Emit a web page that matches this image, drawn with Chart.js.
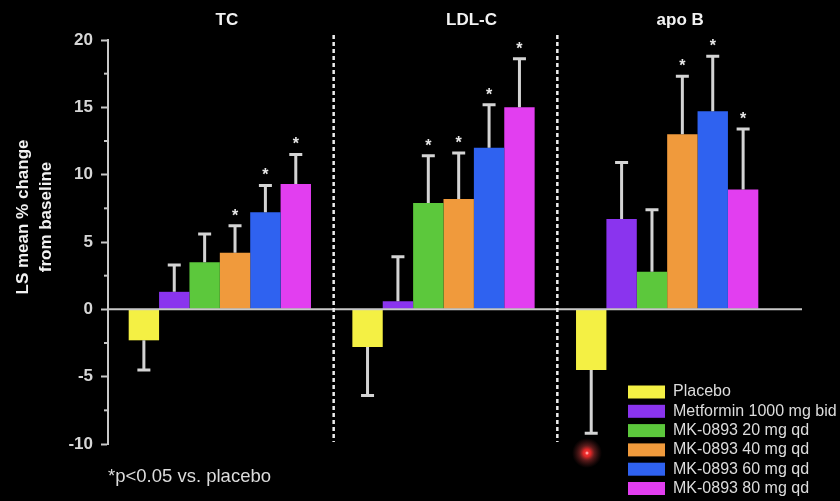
<!DOCTYPE html>
<html>
<head>
<meta charset="utf-8">
<script src="https://cdn.jsdelivr.net/npm/chart.js@4.4.0/dist/chart.umd.min.js"></script>
<style>
  html, body { margin: 0; padding: 0; background: #000; }
  #wrap { width: 840px; height: 501px; position: relative; }
</style>
</head>
<body>
<div id="wrap"><canvas id="c" width="840" height="501"></canvas></div>
<script>
// Lipid endpoints (categories) and treatment arms (series)
const categories = ['TC', 'LDL-C', 'apo B'];
const armNames = [
  'Placebo',
  'Metformin 1000 mg bid',
  'MK-0893 20 mg qd',
  'MK-0893 40 mg qd',
  'MK-0893 60 mg qd',
  'MK-0893 80 mg qd'
];

// LS mean % change from baseline, per endpoint
const placebo   = [-2.3, -2.8, -4.5];
const metformin = [1.3, 0.6, 6.7];
const mk20      = [3.5, 7.9, 2.8];
const mk40      = [4.2, 8.2, 13.0];
const mk60      = [7.2, 12.0, 14.7];
const mk80      = [9.3, 15.0, 8.9];

// Error bar lengths (drawn away from zero)
const errPlacebo  = [2.2, 3.6, 4.7];
const errMetformin = [2.0, 3.3, 4.2];
const errMk20     = [2.1, 3.5, 4.6];
const errMk40     = [2.0, 3.4, 4.3];
const errMk60     = [2.0, 3.2, 4.1];
const errMk80     = [2.2, 3.6, 4.5];

// p<0.05 vs placebo flags
const sigPlacebo  = [false, false, false];
const sigMetformin = [false, false, false];
const sigMk20     = [false, true, false];
const sigMk40     = [true, true, true];
const sigMk60     = [true, true, true];
const sigMk80     = [true, true, true];

// y axis range and labelled ticks
const yMin = -10, yMax = 20;
const yTickLabels = [-10, -5, 0, 5, 10, 15, 20];

const armColors = ['#f4f044', '#8a34ee', '#5cc83c', '#f09a3c', '#2f62f0', '#e23ef0'];
const values = [placebo, metformin, mk20, mk40, mk60, mk80];
const errors = [errPlacebo, errMetformin, errMk20, errMk40, errMk60, errMk80];
const sigs = [sigPlacebo, sigMetformin, sigMk20, sigMk40, sigMk60, sigMk80];

const datasets = armNames.map((name, i) => ({
  label: name,
  data: values[i],
  backgroundColor: armColors[i],
  borderWidth: 0,
  errLen: errors[i],
  sig: sigs[i]
}));

const FONT = '"Liberation Sans", Arial, Helvetica, sans-serif';
const AXIS_GREY = '#c8c8c8';

// Error bars, significance stars, zero line, separators and annotations
const decorations = {
  id: 'decorations',
  afterDatasetsDraw(chart) {
    const ctx = chart.ctx;
    const y = chart.scales.y;
    const x = chart.scales.x;
    const area = chart.chartArea;

    ctx.save();

    // short minor ticks between the labelled ones
    ctx.strokeStyle = AXIS_GREY;
    ctx.lineWidth = 2;
    y.ticks.forEach((t) => {
      if (yTickLabels.includes(t.value)) return;
      const ty = y.getPixelForValue(t.value);
      ctx.beginPath();
      ctx.moveTo(area.left - 4, ty);
      ctx.lineTo(area.left, ty);
      ctx.stroke();
    });

    // zero line (runs a little past the plot area on the right)
    ctx.strokeStyle = AXIS_GREY;
    ctx.lineWidth = 2;
    ctx.beginPath();
    ctx.moveTo(area.left, y.getPixelForValue(0));
    ctx.lineTo(area.right + 23, y.getPixelForValue(0));
    ctx.stroke();

    // error bars + stars
    chart.data.datasets.forEach((ds, d) => {
      const meta = chart.getDatasetMeta(d);
      meta.data.forEach((bar, i) => {
        const v = ds.data[i];
        const end = v + (v < 0 ? -1 : 1) * ds.errLen[i];
        const yEnd = y.getPixelForValue(end);
        ctx.strokeStyle = '#d4d4d4';
        ctx.lineWidth = 3;
        ctx.beginPath();
        ctx.moveTo(bar.x, bar.y);
        ctx.lineTo(bar.x, yEnd);
        ctx.moveTo(bar.x - 6.5, yEnd);
        ctx.lineTo(bar.x + 6.5, yEnd);
        ctx.stroke();
        if (ds.sig[i]) {
          ctx.fillStyle = '#e8e8e8';
          ctx.font = 'bold 16px ' + FONT;
          ctx.textAlign = 'center';
          ctx.textBaseline = 'alphabetic';
          ctx.fillText('*', bar.x, yEnd - 5);
        }
      });
    });

    // dashed separators between endpoints
    ctx.strokeStyle = '#eeeeee';
    ctx.lineWidth = 2.5;
    ctx.setLineDash([4, 3]);
    for (let i = 0; i < categories.length - 1; i++) {
      const sx = (x.getPixelForValue(i) + x.getPixelForValue(i + 1)) / 2 + 2;
      ctx.beginPath();
      ctx.moveTo(sx, 35);
      ctx.lineTo(sx, 442);
      ctx.stroke();
    }
    ctx.setLineDash([]);

    // endpoint titles above each group
    const nudge = [7, 28, 13];
    ctx.fillStyle = '#f2f2f2';
    ctx.font = 'bold 17px ' + FONT;
    ctx.textAlign = 'center';
    ctx.textBaseline = 'middle';
    categories.forEach((c, i) => {
      ctx.fillText(c, x.getPixelForValue(i) + nudge[i], 20);
    });

    // y axis title
    ctx.save();
    ctx.translate(0, 217);
    ctx.rotate(-Math.PI / 2);
    ctx.fillStyle = '#f2f2f2';
    ctx.font = 'bold 17px ' + FONT;
    ctx.textAlign = 'center';
    ctx.textBaseline = 'middle';
    ctx.fillText('LS mean % change', 0, 23);
    ctx.fillText('from baseline', 0, 46);
    ctx.restore();

    // legend
    ctx.font = '16px ' + FONT;
    ctx.textAlign = 'left';
    ctx.textBaseline = 'middle';
    chart.data.datasets.forEach((ds, d) => {
      const ry = 392 + d * 19.3;
      ctx.fillStyle = ds.backgroundColor;
      ctx.fillRect(628, ry - 6.5, 37, 13);
      ctx.fillStyle = '#dcdcdc';
      ctx.fillText(ds.label, 673, ry);
    });

    // footnote
    ctx.fillStyle = '#dcdcdc';
    ctx.font = '18.5px ' + FONT;
    ctx.fillText('*p<0.05 vs. placebo', 108, 477);

    // pointer dot
    const g = ctx.createRadialGradient(587, 453, 0, 587, 453, 15);
    g.addColorStop(0, 'rgba(255,60,60,1)');
    g.addColorStop(0.25, 'rgba(235,40,40,0.95)');
    g.addColorStop(0.5, 'rgba(170,50,50,0.55)');
    g.addColorStop(1, 'rgba(120,40,40,0)');
    ctx.fillStyle = g;
    ctx.beginPath();
    ctx.arc(587, 453, 15, 0, Math.PI * 2);
    ctx.fill();
    ctx.fillStyle = 'rgba(255,170,170,0.9)';
    ctx.beginPath();
    ctx.arc(587, 453, 1.5, 0, Math.PI * 2);
    ctx.fill();
    ctx.restore();
  }
};

new Chart(document.getElementById('c'), {
  type: 'bar',
  data: { labels: categories, datasets },
  options: {
    responsive: false,
    animation: false,
    devicePixelRatio: 1,
    categoryPercentage: 0.815,
    barPercentage: 1.0,
    layout: { padding: { left: 0, right: 61, top: 40, bottom: 57 } },
    plugins: { legend: { display: false }, tooltip: { enabled: false }, title: { display: false } },
    scales: {
      x: { display: false, offset: true },
      y: {
        min: yMin,
        max: yMax,
        afterFit(scale) { scale.width = 108; },
        afterBuildTicks(scale) {
          const t = [];
          for (let v = yMin; v <= yMax; v += 2.5) t.push({ value: v });
          scale.ticks = t;
        },
        ticks: {
          color: '#d6d6d6',
          font: { family: FONT, size: 17, weight: 'bold' },
          padding: 8,
          callback: (v) => (yTickLabels.includes(v) ? String(v) : '')
        },
        grid: {
          display: true,
          drawOnChartArea: false,
          drawTicks: true,
          tickLength: 7,
          tickColor: (c) => (c.tick && yTickLabels.includes(c.tick.value) ? AXIS_GREY : 'rgba(0,0,0,0)'),
          tickWidth: 2
        },
        border: { display: true, color: AXIS_GREY, width: 2 }
      }
    }
  },
  plugins: [decorations]
});
</script>
</body>
</html>
